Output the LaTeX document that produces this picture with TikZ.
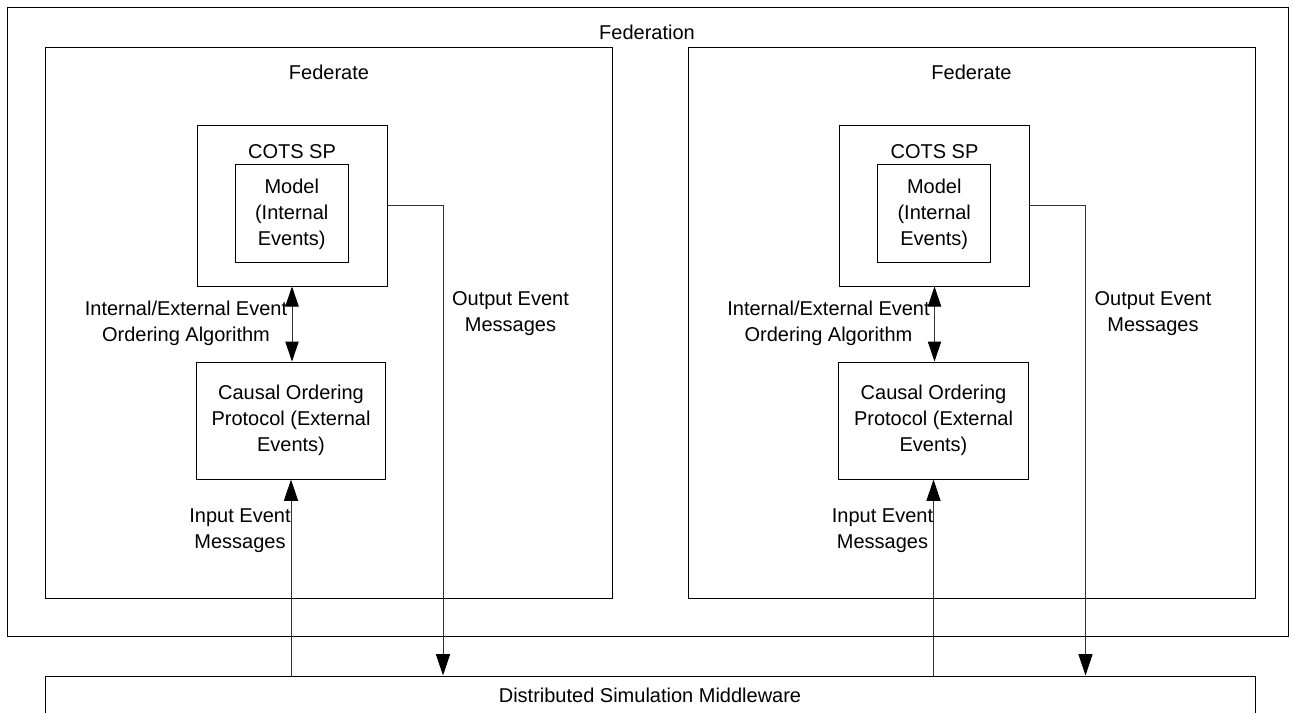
\documentclass[tikz,border=0pt]{standalone}
\usepackage{fontspec}
\setmainfont{Liberation Sans}
\usetikzlibrary{arrows.meta}
\tikzset{
  box/.style={draw=black, line width=0.75pt, rectangle, inner sep=0pt, align=center},
  lbl/.style={inner sep=0pt, align=center},
  tip/.style={Triangle[width=10.5pt,length=16pt,fill=black,color=black]},
  arr/.style={draw=black!80, line width=0.75pt, -{Triangle[width=10.5pt,length=16pt,color=black]}},
  darr/.style={draw=black!80, line width=0.75pt, {Triangle[width=10pt,length=15pt,color=black]}-{Triangle[width=10pt,length=15pt,color=black]}}
}
\begin{document}
\begin{tikzpicture}[x=0.75pt, y=-0.75pt, every node/.style={font=\fontsize{15}{19.5}\selectfont}]
\clip (0,0) rectangle (1293,713);
\fill[white] (0,0) rectangle (1293,713);
% Federation
\node[box, minimum width=961.1pt, minimum height=472.1pt] (fedn) at (648.25,322.25) {};
\node[lbl] (fednlbl) at (647,32) {Federation};
% Middleware
\node[box, minimum width=907.5pt, minimum height=36pt] (mw) at (650,700) {};
\node[lbl] (mwlbl) at (650,695) {Distributed Simulation Middleware};
\foreach \s/\n in {0/L,642.5/R}{
  \node[box, minimum width=425.25pt, minimum height=412.9pt] (fed\n) at (329+\s,322.75) {};
  \node[lbl] (fedlbl\n) at (329+\s,72) {Federate};
  \node[box, minimum width=142.5pt, minimum height=120pt] (cots\n) at (292+\s,206) {};
  \node[lbl] (cotslbl\n) at (292+\s,152) {COTS SP};
  \node[box, minimum width=85.1pt, minimum height=73.5pt] (model\n) at (291.75+\s,214) {Model\\(Internal\\Events)};
  \node[box, minimum width=142.1pt, minimum height=87.75pt] (causal\n) at (291+\s,420.5) {Causal Ordering\\Protocol (External\\Events)};
  \node[lbl] (ordlbl\n) at (186+\s,323) {Internal/External Event\\Ordering Algorithm};
  \node[lbl] (outlbl\n) at (510.5+\s,313.5) {Output Event\\Messages};
  \node[lbl] (inlbl\n) at (240+\s,530.5) {Input Event\\Messages};
  \coordinate (out\n) at (443+\s,206);
  \draw[darr] (cots\n.south) -- (cots\n.south |- causal\n.north);
  \draw[arr] (mw.north -| causal\n.south) -- (causal\n.south);
  \draw[arr] (cots\n.east) -- (out\n) -- (out\n |- mw.north);
}
\end{tikzpicture}
\end{document}
